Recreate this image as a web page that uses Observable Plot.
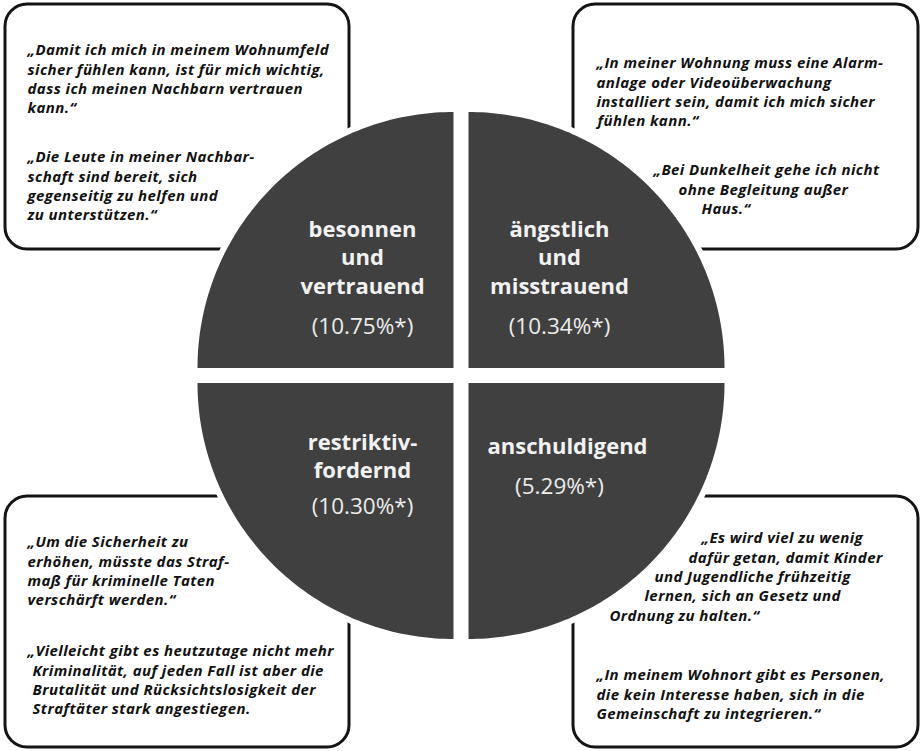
<!DOCTYPE html>
<html>
<head>
<meta charset="utf-8">
<script src="https://cdn.jsdelivr.net/npm/d3@7"></script>
<script src="https://cdn.jsdelivr.net/npm/@observablehq/plot@0.6"></script>
<style>
  html, body { margin: 0; padding: 0; background: #fff; }
  #chart svg { display: block; }
  #chart svg g[font-style="italic"] text { letter-spacing: 0.42px; }
</style>
</head>
<body>
<div id="chart"></div>
<script>
// ---------- data ----------
const categories = ["besonnen und vertrauend", "ängstlich und misstrauend", "restriktiv-fordernd", "anschuldigend"];
const labelLines = [
  ["besonnen", "und", "vertrauend"],
  ["ängstlich", "und", "misstrauend"],
  ["restriktiv-", "fordernd"],
  ["anschuldigend"]
];
const percents = [10.75, 10.34, 10.30, 5.29];

const quotesTL = [
  ["„Damit ich mich in meinem Wohnumfeld", "sicher fühlen kann, ist für mich wichtig,", "dass ich meinen Nachbarn vertrauen", "kann.“"],
  ["„Die Leute in meiner Nachbar-", "schaft sind bereit, sich", "gegenseitig zu helfen und", "zu unterstützen.“"]
];
const quotesTR = [
  ["„In meiner Wohnung muss eine Alarm-", "anlage oder Videoüberwachung", "installiert sein, damit ich mich sicher", "fühlen kann.“"],
  ["„Bei Dunkelheit gehe ich nicht", "ohne Begleitung außer", "Haus.“"]
];
const quotesBL = [
  ["„Um die Sicherheit zu", "erhöhen, müsste das Straf-", "maß für kriminelle Taten", "verschärft werden.“"],
  ["„Vielleicht gibt es heutzutage nicht mehr", "Kriminalität, auf jeden Fall ist aber die", "Brutalität und Rücksichtslosigkeit der", "Straftäter stark angestiegen."]
];
const quotesBR = [
  ["„Es wird viel zu wenig", "dafür getan, damit Kinder", "und Jugendliche frühzeitig", "lernen, sich an Gesetz und", "Ordnung zu halten.“"],
  ["„In meinem Wohnort gibt es Personen,", "die kein Interesse haben, sich in die", "Gemeinschaft zu integrieren.“"]
];

// ---------- layout ----------
const W = 922, H = 751;
const cx = 460.5, cy = 375, gap = 7.5, R = 256;
const quadSigns = [[-1, -1], [1, -1], [-1, 1], [1, 1]];
const quadAngles = [[Math.PI, 1.5 * Math.PI], [1.5 * Math.PI, 2 * Math.PI], [0.5 * Math.PI, Math.PI], [0, 0.5 * Math.PI]];

const boxes = [
  {x1: 5, x2: 349, y1: 4, y2: 249},
  {x1: 573, x2: 918, y1: 4, y2: 249},
  {x1: 5, x2: 349, y1: 496, y2: 747},
  {x1: 573, x2: 918, y1: 496, y2: 747}
];

// quadrant outlines (geometry)
const quadPts = [];
categories.forEach((c, i) => {
  const [sx, sy] = quadSigns[i];
  const ox = cx + sx * gap, oy = cy + sy * gap;
  const [a0, a1] = quadAngles[i];
  quadPts.push({q: c, x: ox, y: oy});
  const n = 90;
  for (let k = 0; k <= n; k++) {
    const a = a0 + (a1 - a0) * k / n;
    quadPts.push({q: c, x: ox + R * Math.cos(a), y: oy + R * Math.sin(a)});
  }
  quadPts.push({q: c, x: ox, y: oy});
});

// label positions
const labelCenters = [[362, 229], [559, 229], [362, 442], [567, 446]];
const labelStep = 28.5;
const pctPos = [[362, 326], [559, 326], [362, 506], [559, 486]];
const labelRows = [];
labelLines.forEach((lines, i) => lines.forEach((t, j) => labelRows.push({t, x: labelCenters[i][0], y: labelCenters[i][1] + j * labelStep})));
const pctRows = percents.map((p, i) => ({t: `(${p.toFixed(2)}%*)`, x: pctPos[i][0], y: pctPos[i][1]}));

// quote line layout
const qStep = 19.3;
const quoteRows = [];
function addQuote(lines, xs, y0) {
  lines.forEach((t, j) => quoteRows.push({t, x: xs[j], y: y0 + j * qStep}));
}
addQuote(quotesTL[0], [27, 27, 27, 27], 50);
addQuote(quotesTL[1], [27, 27, 27, 27], 157);
addQuote(quotesTR[0], [596, 596, 596, 597], 63);
addQuote(quotesTR[1], [653, 678, 701], 170);
addQuote(quotesBL[0], [27, 27, 27, 27], 542);
addQuote(quotesBL[1], [27, 32, 32, 32], 651);
addQuote(quotesBR[0], [701, 688, 654, 644, 609], 538);
addQuote(quotesBR[1], [596, 596, 596], 675);

const chart = Plot.plot({
  width: W,
  height: H,
  margin: 0,
  x: {domain: [0, W], range: [0, W], axis: null},
  y: {domain: [0, H], range: [0, H], axis: null},
  marks: [
    Plot.rect(boxes, {x1: "x1", x2: "x2", y1: "y1", y2: "y2", rx: 22, fill: "white", stroke: "#141414", strokeWidth: 3}),
    Plot.line(quadPts, {x: "x", y: "y", z: "q", stroke: "white", strokeWidth: 12, strokeLinejoin: "round", fill: "white"}),
    Plot.line(quadPts, {x: "x", y: "y", z: "q", fill: "#404040", stroke: null}),
    Plot.text(quoteRows, {x: "x", y: "y", text: "t", textAnchor: "start", fontFamily: "Open Sans", fontStyle: "italic", fontWeight: "bold", fontSize: 15, fill: "#111"}),
    Plot.text(labelRows, {x: "x", y: "y", text: "t", textAnchor: "middle", fontFamily: "Open Sans", fontWeight: "bold", fontSize: 22, fill: "#f2f2f2"}),
    Plot.text(pctRows, {x: "x", y: "y", text: "t", textAnchor: "middle", fontFamily: "Open Sans", fontWeight: "normal", fontSize: 22.5, fill: "#ececec"})
  ]
});
document.getElementById("chart").appendChild(chart);
</script>
</body>
</html>
